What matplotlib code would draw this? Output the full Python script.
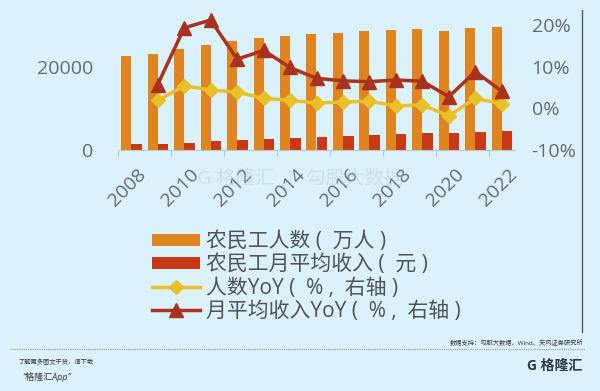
import matplotlib
matplotlib.use("Agg")
import matplotlib.pyplot as plt
import matplotlib.transforms as mtransforms
from matplotlib.lines import Line2D
from matplotlib.patches import Patch
import numpy as np

plt.rcParams["font.family"] = ["Open Sans", "Noto Sans CJK SC", "DejaVu Sans"]

years = [2008, 2009, 2010, 2011, 2012, 2013, 2014, 2015,
         2016, 2017, 2018, 2019, 2020, 2021, 2022]
workers = [22542, 22978, 24223, 25278, 26261, 26894, 27395, 27747,
           28171, 28652, 28836, 29077, 28560, 29251, 29562]
income = [1340, 1417, 1690, 2049, 2290, 2609, 2864, 3072,
          3275, 3485, 3721, 3962, 4072, 4432, 4615]
workers_yoy = [np.nan, 1.9, 5.4, 4.4, 3.9, 2.4, 1.9, 1.3,
               1.5, 1.7, 0.6, 0.8, -1.8, 2.4, 1.1]
income_yoy = [np.nan, 5.7, 19.3, 21.2, 11.8, 13.9, 9.8, 7.2,
              6.6, 6.4, 6.8, 6.5, 2.8, 8.8, 4.1]

labels = ["农民工人数 (  万人 )", "农民工月平均收入 (  元 )",
          "人数YoY (  % ,  右轴 )", "月平均收入YoY (  % ,  右轴 )"]

BG = "#dbf1fb"
ORANGE = "#e0841f"
RED = "#c83a17"
YELLOW = "#e8c12a"
DARKRED = "#a8321e"
TXT = "#626d76"

fig = plt.figure(figsize=(6, 3.91), dpi=100)
fig.patch.set_facecolor(BG)
ax = fig.add_axes([118 / 600, 1 - 150 / 391, 397 / 600, 125 / 391])
ax.set_facecolor(BG)

x = np.arange(len(years))
ax.bar(x - 0.19, workers, width=0.38, color=ORANGE, zorder=2)
ax.bar(x + 0.2, income, width=0.4, color=RED, zorder=2)
ax.set_ylim(0, 30000)
ax.set_xlim(-0.5, len(years) - 0.5)
ax.set_yticks([0, 20000])
ax.set_yticklabels(["0", "20000"], fontsize=14, color=TXT)
ax.tick_params(axis="y", length=0, pad=18)

# ticks on every other category boundary, labels on category centres
ax.set_xticks(np.arange(-0.5, len(years) - 1, 2))
ax.set_xticklabels([])
ax.tick_params(axis="x", which="major", length=4, color="#b5c9d6", direction="out")
ax.set_xticks(x[::2], minor=True)
ax.set_xticklabels([str(y) for y in years[::2]], minor=True, rotation=45,
                   ha="right", va="top", rotation_mode="anchor",
                   fontsize=14, color=TXT)
ax.tick_params(axis="x", which="minor", length=0, pad=11)
shift = mtransforms.ScaledTranslation(6 / 100, 0, fig.dpi_scale_trans)
for lab in ax.get_xticklabels(minor=True):
    lab.set_transform(lab.get_transform() + shift)
for s in ["top", "left", "right"]:
    ax.spines[s].set_visible(False)
ax.spines["bottom"].set_color("#b5c9d6")

ax2 = ax.twinx()
ax2.plot(x, workers_yoy, color=YELLOW, lw=2.5, marker="D", ms=7,
         mec=YELLOW, zorder=3, clip_on=False)
ax2.plot(x, income_yoy, color=DARKRED, lw=2.5, marker="^", ms=10,
         mec=DARKRED, zorder=4, clip_on=False)
ax2.set_ylim(-10, 20)
ax2.set_yticks([-10, 0, 10, 20])
ax2.set_yticklabels(["-10%", "0%", "10%", "20%"], fontsize=14, color=TXT)
ax2.tick_params(axis="y", length=0, pad=12)
for s in ax2.spines.values():
    s.set_visible(False)

# watermark
fig.text(0.5, 0.545, "G 格隆汇  |  勾股大数据", fontsize=14, color="#a9c3d6",
         alpha=0.35, ha="center", va="center")

handles = [
    Patch(facecolor=ORANGE, edgecolor="none"),
    Patch(facecolor=RED, edgecolor="none"),
    Line2D([], [], color=YELLOW, lw=2.5, marker="D", ms=7, mec=YELLOW),
    Line2D([], [], color=DARKRED, lw=2.5, marker="^", ms=10, mec=DARKRED),
]
leg = fig.legend(handles, labels, loc="upper left",
                 bbox_to_anchor=(142 / 600, 1 - 221 / 391), frameon=False,
                 fontsize=15, handlelength=2.3, handleheight=0.5,
                 handletextpad=0.25, labelspacing=0.1, borderpad=0)
for t in leg.get_texts():
    t.set_color("#4d5359")

# right border line
fig.add_artist(Line2D([582 / 600, 582 / 600], [1 - 10 / 391, 1 - 332 / 391],
                      color="#4f5d6b", lw=1, transform=fig.transFigure))

# footer
fig.add_artist(Line2D([10 / 600, 585 / 600], [1 - 349 / 391, 1 - 349 / 391],
                      color="#8a98a4", lw=0.8, ls=(0, (1, 1)),
                      transform=fig.transFigure))
fig.text(583 / 600, 1 - 343 / 391, "数据支持：勾股大数据、Wind、天风证券研究所",
         fontsize=4.5, color="#333a40", ha="right", va="center")
fig.text(18 / 600, 1 - 362 / 391, "了解更多图文干货，请下载", fontsize=4.5,
         color="#333a40", ha="left", va="center", style="italic")
fig.text(22 / 600, 1 - 377 / 391, "“格隆汇App”", fontsize=6.5,
         color="#333a40", ha="left", va="center", style="italic")
fig.text(555 / 600, 1 - 366 / 391, "G 格隆汇", fontsize=10, fontweight="bold",
         color="#2b3a4a", ha="center", va="center")

fig.savefig("out.png", dpi=100, facecolor=BG)
